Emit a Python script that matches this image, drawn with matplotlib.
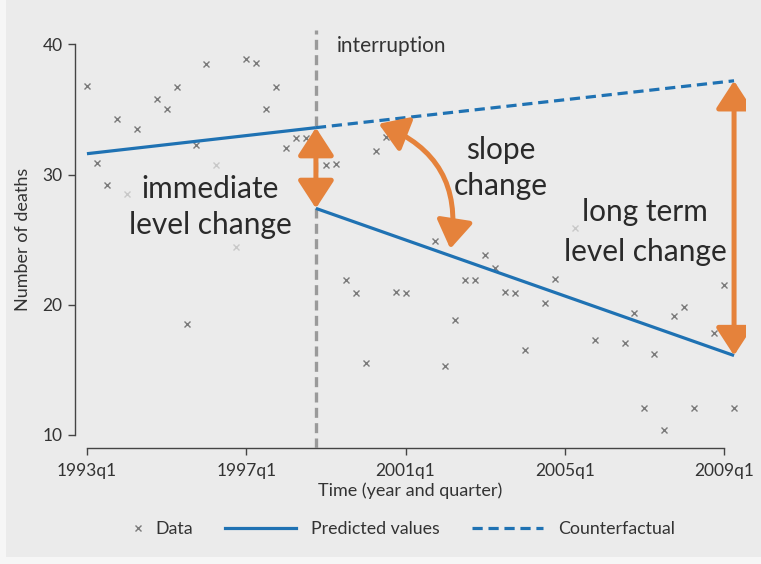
import numpy as np
import matplotlib
matplotlib.use("Agg")
import matplotlib.pyplot as plt
from matplotlib.lines import Line2D
from matplotlib.patches import FancyArrowPatch, ArrowStyle, Rectangle
from matplotlib.legend_handler import HandlerBase

plt.rcParams['font.family'] = ['Lato', 'DejaVu Sans']

nan = float('nan')
# ---------------- data ----------------
# quarter index 0 = 1993q1
tick_positions = [0, 16, 32, 48, 64]
tick_labels = ["1993q1", "1997q1", "2001q1", "2005q1", "2009q1"]
interruption_q = 23  # 1998q4

# observed deaths, quarters 0..22 (before interruption); nan = hidden under labels
pre_deaths = [36.8, 30.9, 29.2, 34.3, 28.5, 33.5, nan, 35.8, 35.0, 36.7,
              18.5, 32.3, 38.5, 30.7, nan, 24.4, 38.9, 38.6, 35.0, 36.7,
              32.0, 32.8, 32.8]
# observed deaths, quarters 23..65 (after interruption)
post_deaths = [nan, 30.7, 30.8, 21.9, 20.9, 15.5, 31.8, 32.9, 21.0, 20.9,
               nan, nan, 24.9, 15.3, 18.8, 21.9, 21.9, 23.8, 22.8, 21.0,
               20.9, 16.5, nan, 20.1, 22.0, nan, 25.9, nan, 17.3, nan,
               nan, 17.1, 19.4, 12.1, 16.2, 10.4, 19.1, 19.8, 12.1, nan,
               17.8, 21.5, 12.1]
# points that sit faintly behind the annotation labels
faint_quarters = [4, 13, 15, 49]

# fitted segmented regression (end points)
pred_pre_q = [0, 23]
pred_pre_val = [31.6, 33.6]
pred_post_q = [23, 65]
pred_post_val = [27.4, 16.1]
cf_q = [23, 65]
cf_val = [33.6, 37.2]

# ---------------- style ----------------
BG = '#ebebeb'
BLUE = '#1f72b3'
ORANGE = '#e5823b'
GREY = '#7a7a7a'
DARK = '#333333'

fig = plt.figure(figsize=(7.61, 5.64), dpi=100, facecolor=BG)
# light screenshot frame on left and bottom
fig.patches.append(Rectangle((0, 0), 6/761, 1, transform=fig.transFigure,
                             facecolor='#f6f6f6', edgecolor='none', zorder=0))
fig.patches.append(Rectangle((0, 0), 1, 7/564, transform=fig.transFigure,
                             facecolor='#f6f6f6', edgecolor='none', zorder=0))

ax = fig.add_axes([75/761, (564-448)/564, (746-75)/761, (448-30)/564])
ax.set_facecolor(BG)
ax.set_xlim(-1.2, 66.2)
ax.set_ylim(9.0, 41.1)

all_deaths = np.array(pre_deaths + post_deaths, dtype=float)
all_q = np.arange(len(all_deaths))
faint = np.isin(all_q, faint_quarters)

ax.plot(all_q[~faint], all_deaths[~faint], ls='none', marker='x', ms=4.5, mew=1.0,
        color=GREY, zorder=2)
ax.plot(all_q[faint], all_deaths[faint], ls='none', marker='x', ms=4.5, mew=1.0,
        color=GREY, alpha=0.3, zorder=2)

# interruption line
ax.axvline(interruption_q, color='#9a9a9a', lw=2.4, dashes=(3.0, 1.6), zorder=3)

ax.plot(pred_pre_q, pred_pre_val, color=BLUE, lw=2.3, solid_capstyle='butt', zorder=4)
ax.plot(pred_post_q, pred_post_val, color=BLUE, lw=2.3, solid_capstyle='butt', zorder=4)
ax.plot(cf_q, cf_val, color=BLUE, lw=2.3, dashes=(3.2, 1.8), zorder=4)

# spines
for s in ['top', 'right']:
    ax.spines[s].set_visible(False)
ax.spines['left'].set_bounds(10, 40)
ax.spines['bottom'].set_bounds(0, 64)
for s in ['left', 'bottom']:
    ax.spines[s].set_color('#444444')
    ax.spines[s].set_linewidth(1.0)

ax.set_yticks([10, 20, 30, 40])
ax.set_xticks(tick_positions)
ax.set_xticklabels(tick_labels)
ax.tick_params(axis='both', colors='#444444', labelcolor=DARK, labelsize=12.5,
               length=5, width=1.0)
ax.tick_params(axis='y', pad=4)
ax.tick_params(axis='x', pad=6)
ax.set_xlabel("Time (year and quarter)", fontsize=13, color=DARK, labelpad=2)
ax.set_ylabel("Number of deaths", fontsize=13, color=DARK, labelpad=8)

# annotation texts
ax.text(25.1, 39.9, "interruption", fontsize=15, color=DARK, ha='left', va='center', zorder=5)
ax.text(12.4, 27.5, "immediate\nlevel change", fontsize=21.5, color='#2a2a2a',
        ha='center', va='center', linespacing=1.35, zorder=5)
ax.text(41.6, 30.5, "slope\nchange", fontsize=21.5, color='#2a2a2a',
        ha='center', va='center', linespacing=1.35, zorder=5)
ax.text(56.05, 25.6, "long term\nlevel change", fontsize=21.5, color='#2a2a2a',
        ha='center', va='center', linespacing=1.5, zorder=5)

# orange arrows
astyle = ArrowStyle("<|-|>", head_length=1.0, head_width=0.65)
arr1 = FancyArrowPatch((interruption_q, pred_pre_val[1]), (interruption_q, pred_post_val[0]),
                       arrowstyle=astyle, mutation_scale=17, color=ORANGE, lw=3.6,
                       shrinkA=0, shrinkB=0, zorder=6)
ax.add_patch(arr1)
arr2 = FancyArrowPatch((cf_q[1], cf_val[1]), (pred_post_q[1], pred_post_val[1]),
                       arrowstyle=astyle, mutation_scale=17, color=ORANGE, lw=3.6,
                       shrinkA=0, shrinkB=0, zorder=6)
ax.add_patch(arr2)
arr3 = FancyArrowPatch((29.3, 33.9), (36.5, 24.3), connectionstyle="arc3,rad=-0.4",
                       arrowstyle=astyle, mutation_scale=17, color=ORANGE, lw=3.6,
                       shrinkA=0, shrinkB=0, zorder=6)
ax.add_patch(arr3)

# legend
class MarkerRight(HandlerBase):
    def create_artists(self, legend, orig_handle, xdescent, ydescent, width, height, fontsize, trans):
        m = Line2D([-xdescent + width - 0.1 * fontsize], [(height - ydescent) / 2],
                   marker='x', ls='none', color=GREY, ms=4.5, mew=1.0)
        m.set_transform(trans)
        return [m]

h_data = Line2D([], [], marker='x', ls='none', color=GREY, ms=4.5, mew=1.0)
h_pred = Line2D([], [], color=BLUE, lw=2.3)
h_cf = Line2D([], [], color=BLUE, lw=2.3, dashes=(3.2, 1.8))
leg = fig.legend([h_data, h_pred, h_cf], ["Data", "Predicted values", "Counterfactual"],
                 loc='center', bbox_to_anchor=(372/761, (564-529)/564), ncol=3,
                 frameon=False, fontsize=12.8, handlelength=4.0, handletextpad=0.85,
                 columnspacing=1.8, handler_map={h_data: MarkerRight()})
for t in leg.get_texts():
    t.set_color(DARK)

fig.savefig("out.png", dpi=100, facecolor=BG)
